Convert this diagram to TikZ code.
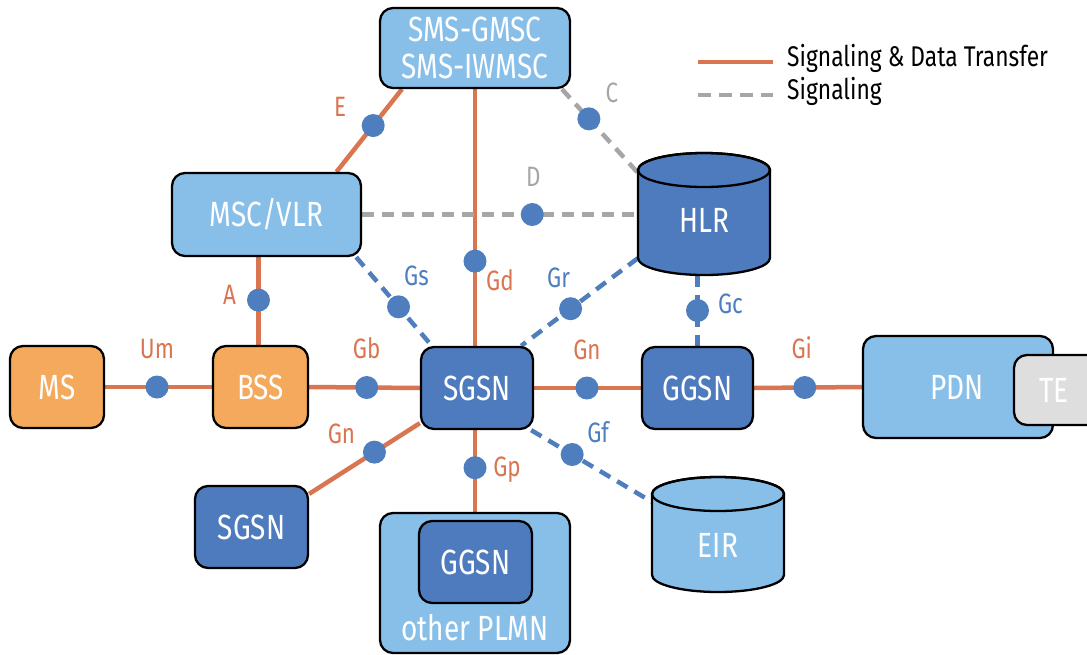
\documentclass[tikz,border=0pt]{standalone}
\usepackage{fontspec}
\setmainfont{Fira Sans}[FakeStretch=0.8]
\usetikzlibrary{backgrounds}
\definecolor{lineor}{HTML}{D97550}
\definecolor{dotblue}{HTML}{4F7EBE}
\definecolor{darkblue}{HTML}{4E7BBD}
\definecolor{lightblue}{HTML}{88BFE9}
\definecolor{boxor}{HTML}{F4A95C}
\definecolor{sggray}{HTML}{A6A6A6}
\definecolor{tegray}{HTML}{DEDEDE}
\begin{document}
\begin{tikzpicture}[x=1pt,y=-1pt,
  box/.style={draw=black,line width=2.3pt,rounded corners=13pt,text=white,
    font=\fontsize{35}{37}\selectfont,inner sep=0pt,align=center},
  lbox/.style={box,fill=lightblue},
  dbox/.style={box,fill=darkblue},
  obox/.style={box,fill=boxor},
  ghost/.style={inner sep=0pt,text=white,font=\fontsize{35}{37}\selectfont},
  cyl/.style={draw=black,line width=2.3pt},
  sigdata/.style={draw=lineor,line width=4.5pt},
  sigonly/.style={draw=sggray,line width=4.5pt,dash pattern=on 12pt off 8pt},
  sigblue/.style={draw=dotblue,line width=4.5pt,dash pattern=on 12pt off 8pt},
  dot/.style={circle,fill=dotblue,minimum size=23pt,inner sep=0pt},
  lab/.style={font=\fontsize{28}{30}\selectfont,inner sep=0pt,text height=0.69em,text depth=0pt},
  labor/.style={lab,text=lineor},
  labbl/.style={lab,text=dotblue},
  labgr/.style={lab,text=sggray},
  legtext/.style={font=\fontsize{28.5}{30}\selectfont,inner sep=0pt,anchor=west,text height=0.69em,text depth=0pt}
]
\useasboundingbox (0,0) rectangle (1087,654);

% boxes
\node[obox,minimum width=94pt,minimum height=82pt] (ms) at (57,387) {MS};
\node[obox,minimum width=95pt,minimum height=82pt] (bss) at (260.5,387) {BSS};
\node[lbox,minimum width=189pt,minimum height=83pt] (msc) at (266.5,214.5) {MSC/VLR};
\node[lbox,minimum width=190pt,minimum height=80pt] (sms) at (475,48) {SMS-GMSC\\SMS-IWMSC};
\node[dbox,minimum width=112pt,minimum height=82pt] (sgsn) at (477,388) {SGSN};
\node[dbox,minimum width=111pt,minimum height=82pt] (ggsn) at (697.5,388) {GGSN};
\node[dbox,minimum width=113pt,minimum height=82pt] (sgsnb) at (251.5,527) {SGSN};
\node[lbox,minimum width=190pt,minimum height=102pt] (pdn) at (958,387) {};
\node[lbox,minimum width=190pt,minimum height=140pt] (plmn) at (475,583) {};
\node[dbox,minimum width=113pt,minimum height=82pt] (ggsnb) at (475.5,562) {GGSN};
\node[ghost] (plmntext) at (475,628) {other PLMN};
\node[box,fill=tegray,minimum width=88pt,minimum height=70pt] (te) at (1058,390) {};
\node[ghost] (tetext) at (1054,390) {TE};
\node[ghost] (pdntext) at (957,387) {PDN};
\node[minimum width=132pt,minimum height=122pt,inner sep=0pt] (hlr) at (704,214) {};
\node[minimum width=132pt,minimum height=115pt,inner sep=0pt] (eir) at (718,534.5) {};

% cylinders
\filldraw[cyl,fill=darkblue] (638,170) -- (638,258)
  arc[start angle=180,end angle=0,x radius=66,y radius=17] -- (770,170)
  arc[start angle=0,end angle=-180,x radius=66,y radius=17] -- cycle;
\draw[cyl] (704,170) ellipse[x radius=66,y radius=17];
\node[ghost] (hlrtext) at (704,220) {HLR};
\filldraw[cyl,fill=lightblue] (652,494) -- (652,575)
  arc[start angle=180,end angle=0,x radius=66,y radius=17] -- (784,494)
  arc[start angle=0,end angle=-180,x radius=66,y radius=17] -- cycle;
\draw[cyl] (718,494) ellipse[x radius=66,y radius=17];
\node[ghost] (eirtext) at (718,545) {EIR};

% connectors
\begin{pgfonlayer}{background}
\draw[sigdata] (ms.east) -- node[dot,pos=0.486] (dUm) {} (bss.west);
\draw[sigdata] (bss.east) -- node[dot,pos=0.52] (dGb) {} (sgsn.west);
\draw[sigdata] (sgsn.east) -- node[dot,pos=0.495] (dGn) {} (ggsn.west);
\draw[sigdata] (ggsn.east) -- node[dot,pos=0.47] (dGi) {} (pdn.west);
\draw[sigdata] ([xshift=-2pt]bss.north) -- node[dot,pos=0.51] (dA) {} ([xshift=-2pt]bss.north |- msc.south);
\draw[sigdata] ([xshift=70pt]msc.north) -- node[dot,pos=0.56] (dE) {} ([xshift=-73pt]sms.south);
\draw[sigdata] (sms.south) -- node[dot,pos=0.67] (dGd) {} (sms.south |- sgsn.north);
\draw[sigonly] ([xshift=87pt]sms.south) -- node[dot,pos=0.355] (dC) {} ([yshift=-20pt]hlr.north west);
\draw[sigonly] (msc.east) -- node[dot,pos=0.617] (dD) {} (msc.east -| hlr.west);
\draw[sigblue] ([xshift=-6pt]msc.south east) -- node[dot,pos=0.56] (dGs) {} ([xshift=12pt]sgsn.north west);
\draw[sigblue] ([yshift=17pt]hlr.south west) -- node[dot,pos=0.576] (dGr) {} ([xshift=-13pt]sgsn.north east);
\draw[sigblue] (ggsn.north |- hlr.south) -- node[dot,pos=0.5] (dGc) {} (ggsn.north);
\draw[sigdata] ([yshift=7pt]sgsn.south west) -- node[dot,pos=0.41] (dGn2) {} ([yshift=-9pt]sgsnb.north east);
\draw[sigdata] (plmn.north |- sgsn.south) -- node[dot,pos=0.46] (dGp) {} (plmn.north);
\draw[sigblue] ([xshift=-3pt]sgsn.south east) -- node[dot,pos=0.34] (dGf) {} ([yshift=-25pt]eir.north west);
\end{pgfonlayer}

% interface labels
\node[labor] (lUm) at ([shift={(0,-32)}]dUm) {Um};
\node[labor] (lGb) at ([shift={(0,-32)}]dGb) {Gb};
\node[labor] (lGn) at ([shift={(0,-32)}]dGn) {Gn};
\node[labor] (lGi) at ([shift={(-3,-32)}]dGi) {Gi};
\node[labor] (lA) at ([shift={(-29,1)}]dA) {A};
\node[labor] (lE) at ([shift={(-33,-12)}]dE) {E};
\node[labor] (lGd) at ([shift={(25,26)}]dGd) {Gd};
\node[labgr] (lC) at ([shift={(23,-20)}]dC) {C};
\node[labgr] (lD) at ([shift={(1,-31)}]dD) {D};
\node[labbl] (lGs) at ([shift={(18,-25)}]dGs) {Gs};
\node[labbl] (lGr) at ([shift={(-12,-25)}]dGr) {Gr};
\node[labbl] (lGc) at ([shift={(33,0)}]dGc) {Gc};
\node[labor] (lGn2) at ([shift={(-33,-12)}]dGn2) {Gn};
\node[labor] (lGp) at ([shift={(32,5)}]dGp) {Gp};
\node[labbl] (lGf) at ([shift={(26,-15)}]dGf) {Gf};

% legend
\coordinate (la1) at (698,62);
\coordinate (lb1) at (773,62);
\coordinate (la2) at (698,95);
\coordinate (lb2) at (773,95);
\draw[sigdata] (la1) -- (lb1);
\draw[sigonly,dash pattern=on 13pt off 8pt] (la2) -- (lb2);
\node[legtext] (leg1) at (787,63) {Signaling \& Data Transfer};
\node[legtext] (leg2) at (787,96) {Signaling};
\end{tikzpicture}
\end{document}
